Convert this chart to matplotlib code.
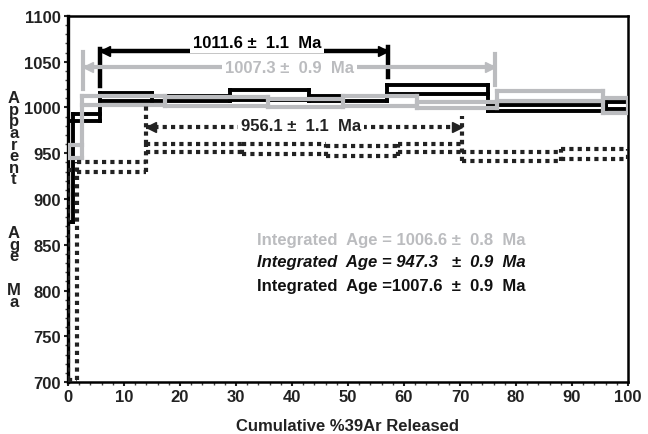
import numpy as np
import matplotlib.pyplot as plt
from matplotlib.ticker import MultipleLocator

plt.rcParams['font.family'] = ['Liberation Sans Narrow', 'Liberation Sans', 'DejaVu Sans']
plt.rcParams['font.weight'] = 'bold'

# step edges (cumulative % 39Ar) and age envelopes (Ma) for each sample
black_edges = [0, 0.8, 5.7, 15, 29, 43, 57, 75, 96, 100]
black_lo = [875, 985, 1007, 1007, 1008, 1007, 1015, 996, 998]
black_hi = [985, 993, 1016, 1012, 1019, 1012, 1025, 1003, 1006]

gray_edges = [0, 2.5, 17.3, 35.7, 49.1, 62.3, 76.6, 95.5, 100]
gray_lo = [945, 1003, 1002, 1001, 1002, 999, 1007, 994]
gray_hi = [959, 1012, 1011, 1009, 1012, 1006, 1018, 1010]

dot_edges = [0, 1.6, 13.9, 31, 46, 59, 70.4, 88, 100]
dot_lo = [702, 929, 951, 949, 947, 951, 941, 944]
dot_hi = [932, 940, 960, 960, 958, 960, 951, 955]

# plateau bars: x range, bar age, cap ranges
black_plat = dict(x0=5.7, x1=57.1, y=1062, cap0=(1023, 1064), cap1=(1033, 1066),
                  label='1011.6 ±  1.1  Ma', tx=33.8, ty=1071)
gray_plat = dict(x0=2.7, x1=76.3, y=1044, cap0=(1020, 1061), cap1=(1025, 1058),
                 label='1007.3 ±  0.9  Ma', tx=39.6, ty=1044)
dot_plat = dict(x0=13.9, x1=70.4, y=979, cap0=(960, 1005), cap1=(960, 991),
                label='956.1 ±  1.1  Ma', tx=41.6, ty=980)

integrated = ['Integrated  Age = 1006.6 ±  0.8  Ma',
              'Integrated  Age = 947.3   ±  0.9  Ma',
              'Integrated  Age =1007.6  ±  0.9  Ma']

GRAY = '#bbbcbf'


def draw_spectrum(ax, edges, lo, hi, **kw):
    n = len(lo)
    for i in range(n):
        ax.plot([edges[i], edges[i + 1]], [hi[i], hi[i]], **kw)
        ax.plot([edges[i], edges[i + 1]], [lo[i], lo[i]], **kw)
    # verticals at each boundary
    for i in range(n + 1):
        ys = []
        if i > 0:
            ys += [lo[i - 1], hi[i - 1]]
        if i < n:
            ys += [lo[i], hi[i]]
        ax.plot([edges[i], edges[i]], [min(ys), max(ys)], **kw)


def draw_plateau(ax, p, color, ls='-', lw=3):
    ax.plot([p['x0'], p['x1']], [p['y'], p['y']], color=color, lw=lw, ls=ls,
            solid_capstyle='butt', zorder=5)
    ax.plot([p['x0'], p['x0']], p['cap0'], color=color, lw=lw, ls=ls, zorder=5)
    ax.plot([p['x1'], p['x1']], p['cap1'], color=color, lw=lw, ls=ls, zorder=5)
    ax.plot([p['x0'] + 0.9], [p['y']], marker='<', ms=7, color=color, zorder=6)
    ax.plot([p['x1'] - 0.9], [p['y']], marker='>', ms=7, color=color, zorder=6)
    ax.text(p['tx'], p['ty'], p['label'], color=color, fontsize=12, ha='center',
            va='center', zorder=7,
            bbox=dict(facecolor='white', edgecolor='none', pad=2))


fig = plt.figure(figsize=(6.48, 4.35), dpi=100)
ax = fig.add_axes([0.105, 0.1195, 0.864, 0.8415])

draw_spectrum(ax, black_edges, black_lo, black_hi, color='black', lw=2.8,
              solid_capstyle='projecting', zorder=3)
draw_spectrum(ax, gray_edges, gray_lo, gray_hi, color=GRAY, lw=3,
              solid_capstyle='projecting', zorder=4)
draw_spectrum(ax, dot_edges, dot_lo, dot_hi, color='#222222', lw=3,
              ls=(0, (1, 1)), zorder=4.5)

draw_plateau(ax, black_plat, 'black', lw=3.2)
draw_plateau(ax, gray_plat, GRAY, lw=3)
draw_plateau(ax, dot_plat, '#222222', ls=(0, (1, 1)), lw=3)

ax.text(33.8, 856, integrated[0], color=GRAY, fontsize=12, ha='left', va='center')
ax.text(33.8, 832, integrated[1], color='#111111', fontsize=12, ha='left',
        va='center', style='italic')
ax.text(33.8, 806, integrated[2], color='#111111', fontsize=12, ha='left', va='center')

ax.set_xlim(0, 100)
ax.set_ylim(700, 1100)
ax.xaxis.set_major_locator(MultipleLocator(10))
ax.xaxis.set_minor_locator(MultipleLocator(2))
ax.yaxis.set_major_locator(MultipleLocator(50))
ax.yaxis.set_minor_locator(MultipleLocator(10))
ax.tick_params(which='major', direction='out', length=3, width=1.5, labelsize=12,
               pad=2, colors='#222222')
ax.tick_params(which='minor', direction='out', length=2, width=1, colors='#444444')
for lab in ax.get_xticklabels() + ax.get_yticklabels():
    lab.set_fontweight('bold')
for s in ax.spines.values():
    s.set_linewidth(1.8)
ax.spines['left'].set_linewidth(2.4)

ax.set_xlabel('Cumulative %39Ar Released', fontsize=12, fontweight='bold',
              color='#222222', labelpad=10)

# stacked y label, one letter per line
for word, ytop in [('Apparent', 91), ('Age', 226), ('Ma', 283)]:
    fig.text(14 / 648, 1 - ytop / 435, '\n'.join(word), fontsize=12,
             fontweight='bold', ha='center', va='top', ma='center',
             linespacing=0.72, color='#222222')

fig.savefig('out.png', dpi=100)
